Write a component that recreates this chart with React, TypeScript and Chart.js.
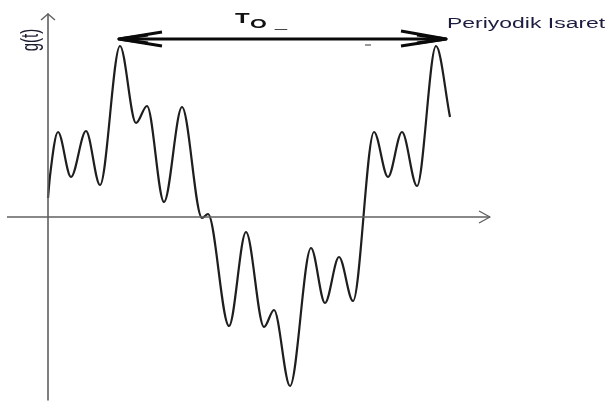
import { useEffect, useRef } from "react";
import { Chart, registerables } from "chart.js";

Chart.register(...registerables);

// Periodic signal g(t): time (x) and amplitude (y), origin where the axes cross
const waveT = [0, 2, 10, 23, 38, 52, 72, 88, 99, 116, 134, 154, 160, 181, 198, 216, 226, 242, 263, 277, 291, 305, 326, 340, 354, 369, 388, 402];
const waveG = [19, 41, 85, 40, 86, 32, 171, 94, 111, 15, 110, -1, 3, -109, -15, -110, -93, -169, -31, -86, -40, -84, 85, 40, 85, 31, 171, 100];

// Axis lines and their arrow heads
const yAxisLine = [{ x: 0, y: 203 }, { x: 0, y: -183 }];
const yAxisHead = [{ x: -7, y: 197 }, { x: 0, y: 203 }, { x: 7, y: 197 }];
const xAxisLine = [{ x: -41, y: 0 }, { x: 442, y: 0 }];
const xAxisHead = [{ x: 431, y: 6 }, { x: 442, y: 0 }, { x: 431, y: -6 }];

// Double arrow spanning one period T0 (between the two main peaks)
const periodLevel = 178;
const periodStart = 70;
const periodEnd = 399;
const leftHeadOuter = [{ x: 114, y: 185 }, { x: 71, y: 178 }, { x: 114, y: 171 }];
const leftHeadInner = [{ x: 100, y: 182 }, { x: 71, y: 178 }, { x: 100, y: 174 }];
const rightHeadOuter = [{ x: 353, y: 186 }, { x: 398, y: 178 }, { x: 353, y: 171 }];
const rightHeadInner = [{ x: 369, y: 182 }, { x: 398, y: 178 }, { x: 369, y: 174 }];
const strayDash = [{ x: 317, y: 172 }, { x: 323, y: 172 }];

// Text labels
type Label = { text: string; x: number; y: number; font: string; stretch: number; color: string; rotate?: boolean };
const labels: Label[] = [
  { text: "T", x: 187, y: 194, font: "bold 15px 'Liberation Sans', Arial, sans-serif", stretch: 1.6, color: "#111111" },
  { text: "O", x: 202, y: 189, font: "bold 12px 'Liberation Sans', Arial, sans-serif", stretch: 1.8, color: "#111111" },
  { text: "_", x: 227, y: 190, font: "12px 'Liberation Sans', Arial, sans-serif", stretch: 1.8, color: "#222222" },
  { text: "Periyodik Isaret", x: 399, y: 189, font: "14px 'Liberation Sans', Arial, sans-serif", stretch: 1.64, color: "#1c1c40" },
  { text: "g(t)", x: -17, y: 177, font: "15px 'Liberation Sans', Arial, sans-serif", stretch: 1.6, color: "#1a1a2e", rotate: true },
];

const labelPlugin = {
  id: "signalLabels",
  afterDatasetsDraw(chart: any) {
    const { ctx, scales } = chart;
    const xs = scales.x;
    const ys = scales.y;
    for (const l of labels) {
      const px = xs.getPixelForValue(l.x);
      const py = ys.getPixelForValue(l.y);
      ctx.save();
      ctx.fillStyle = l.color;
      ctx.font = l.font;
      ctx.translate(px, py);
      ctx.scale(l.stretch, 1);
      if (l.rotate) {
        ctx.rotate(-Math.PI / 2);
        ctx.textAlign = "center";
        ctx.textBaseline = "middle";
      } else {
        ctx.textAlign = "left";
        ctx.textBaseline = "alphabetic";
      }
      ctx.fillText(l.text, 0, 0);
      ctx.restore();
    }
  },
};

function seg(data: { x: number; y: number }[], color: string, width: number, join: CanvasLineJoin = "round") {
  return {
    data,
    showLine: true,
    borderColor: color,
    borderWidth: width,
    borderJoinStyle: join,
    borderCapStyle: "butt",
    pointRadius: 0,
    tension: 0,
    fill: false,
    clip: false as any,
  };
}

export default function App() {
  const canvasRef = useRef<HTMLCanvasElement | null>(null);

  useEffect(() => {
    if (!canvasRef.current) return;
    const wave = waveT.map((t, i) => ({ x: t, y: waveG[i] }));
    const axisColor = "#606060";
    const arrowColor = "#0a0a0a";
    const chart = new Chart(canvasRef.current, {
      type: "scatter",
      data: {
        datasets: [
          seg(yAxisLine, axisColor, 1.6),
          seg(yAxisHead, axisColor, 1.4),
          seg(xAxisLine, axisColor, 1.6),
          seg(xAxisHead, axisColor, 1.4),
          {
            data: wave,
            showLine: true,
            borderColor: "#1e1e1e",
            borderWidth: 2.2,
            pointRadius: 0,
            cubicInterpolationMode: "monotone",
            fill: false,
            clip: false as any,
          },
          seg([{ x: periodStart + 4, y: periodLevel }, { x: periodEnd - 4, y: periodLevel }], arrowColor, 3),
          seg(leftHeadOuter, arrowColor, 3),
          seg(leftHeadInner, arrowColor, 3),
          seg(rightHeadOuter, arrowColor, 3),
          seg(rightHeadInner, arrowColor, 3),
          seg(strayDash, "#9a9a9a", 2),
        ] as any,
      },
      options: {
        animation: false,
        responsive: false,
        events: [],
        layout: { padding: 0 },
        scales: {
          x: { type: "linear", min: -48, max: 561, display: false },
          y: { type: "linear", min: -185, max: 217, display: false },
        },
        plugins: {
          legend: { display: false },
          tooltip: { enabled: false },
        },
      },
      plugins: [labelPlugin],
    });
    return () => chart.destroy();
  }, []);

  return (
    <div style={{ position: "fixed", left: 0, top: 0, width: 609, height: 402, background: "#ffffff" }}>
      <canvas ref={canvasRef} width={609} height={402} style={{ display: "block" }} />
    </div>
  );
}
